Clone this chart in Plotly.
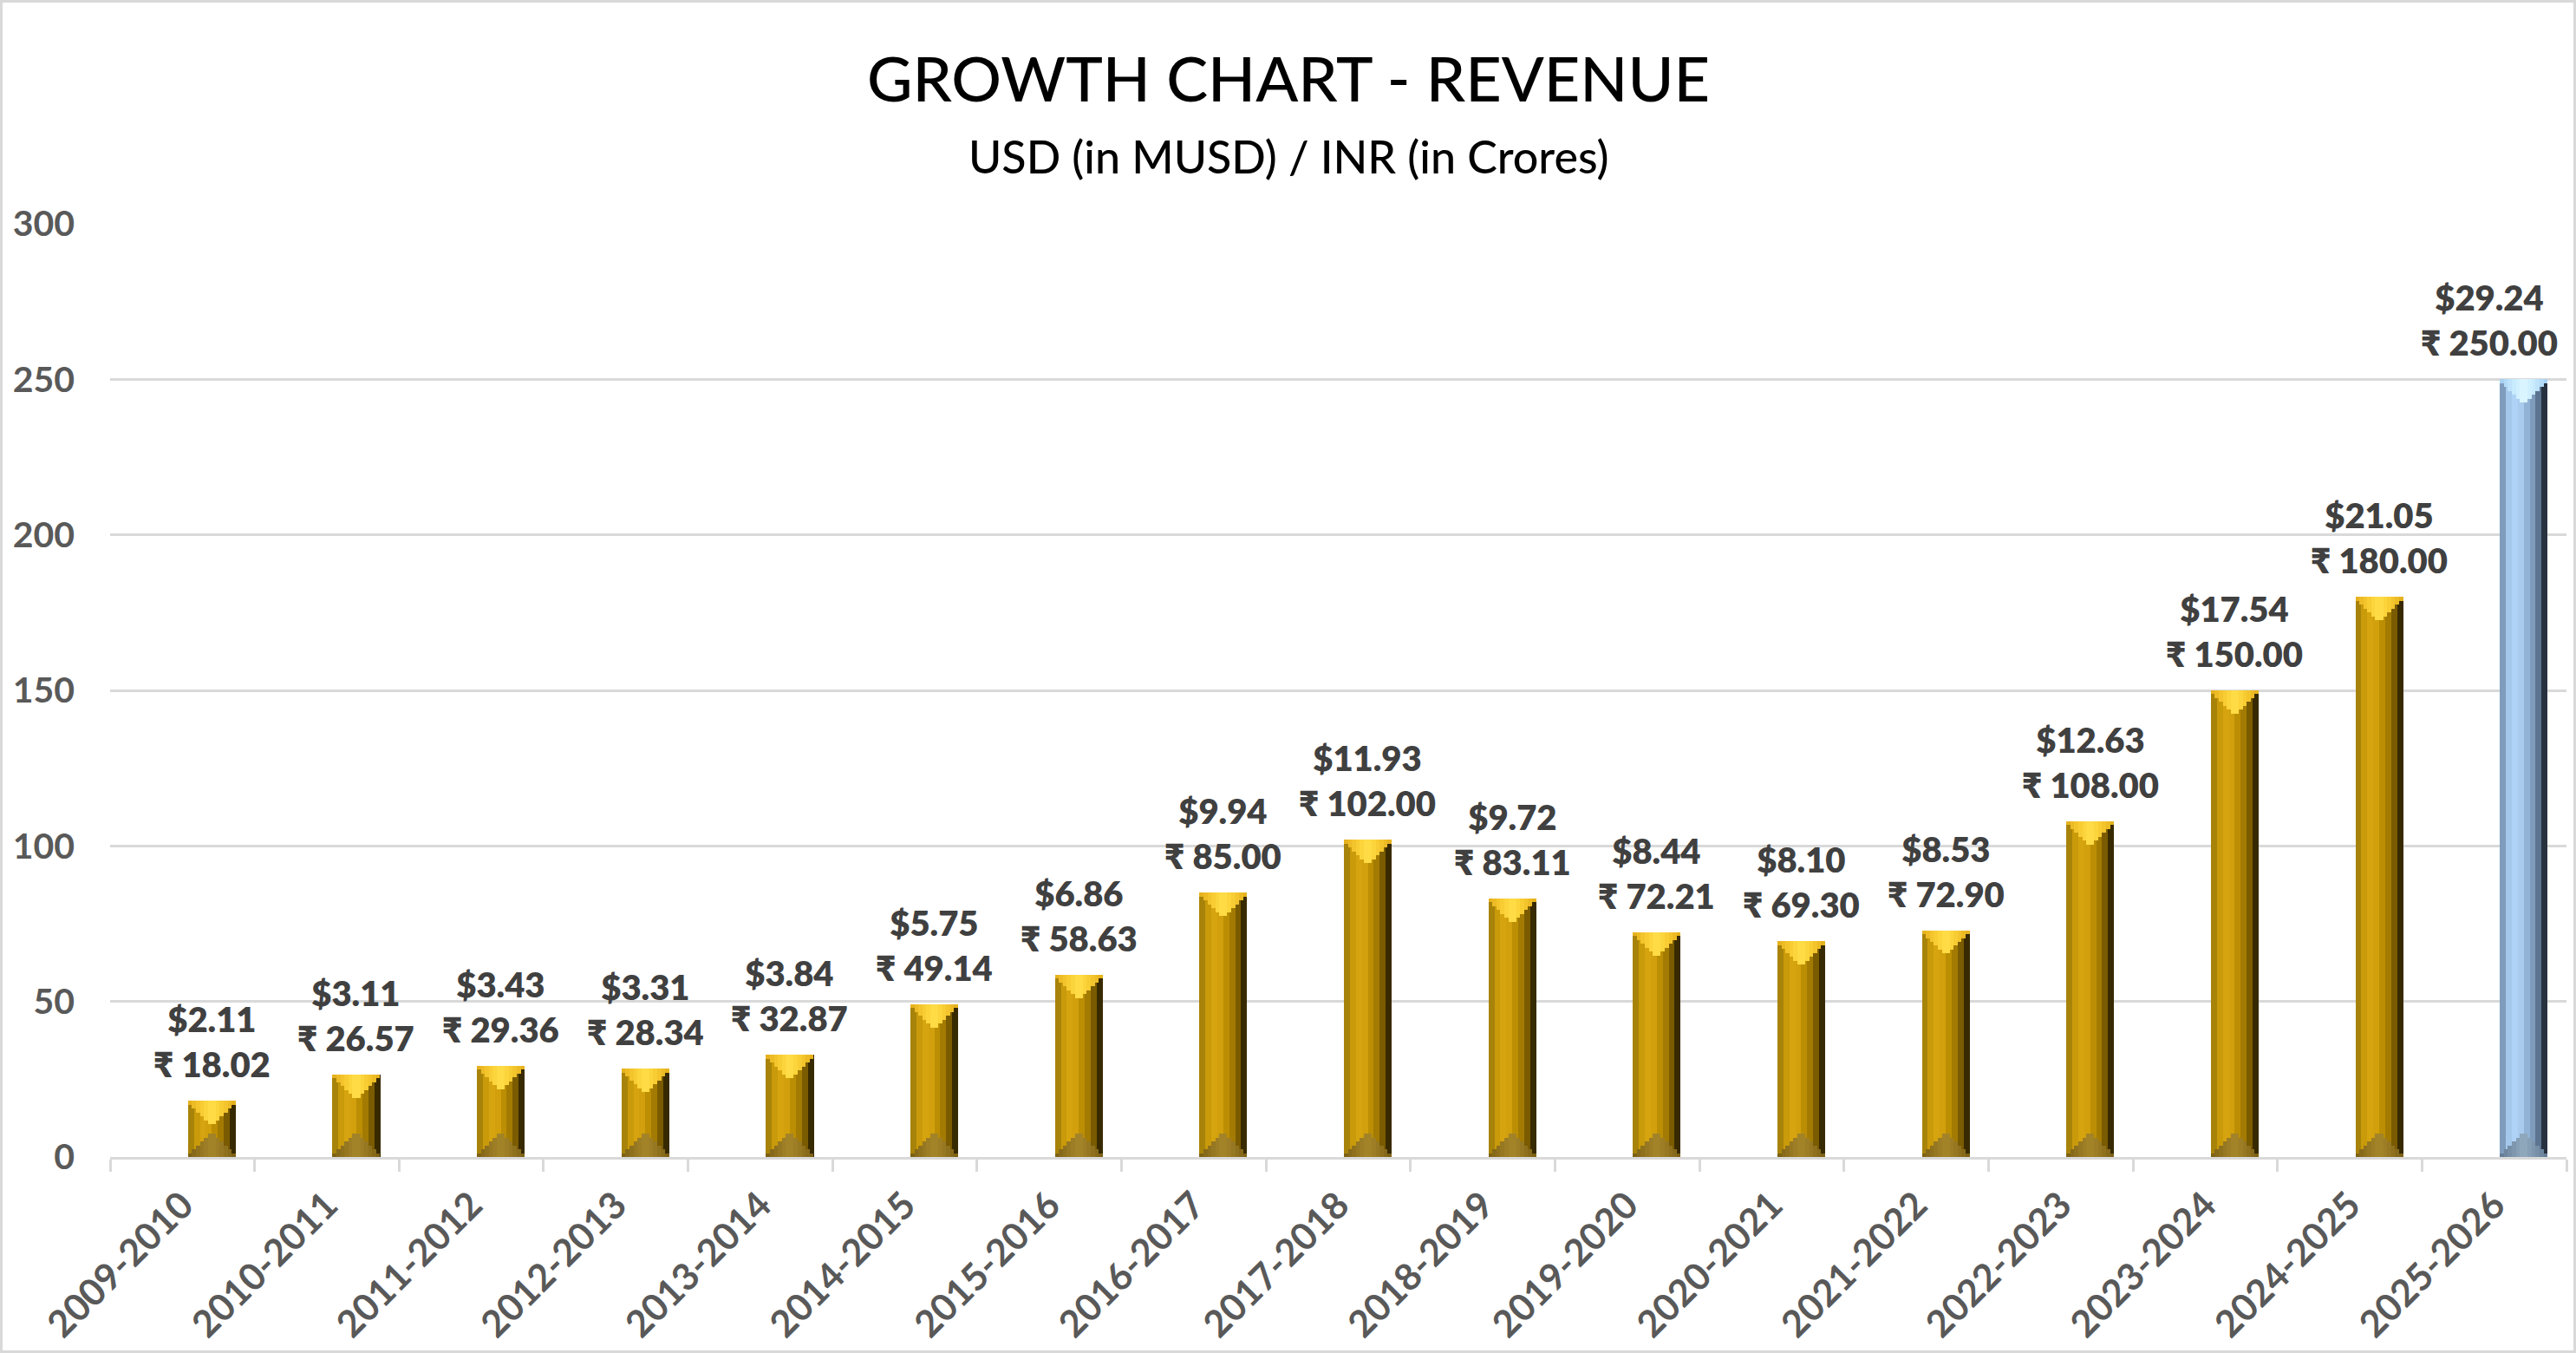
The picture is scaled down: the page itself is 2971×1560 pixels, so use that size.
import plotly.graph_objects as go

# ---------------- data ----------------
years = ["2009-2010", "2010-2011", "2011-2012", "2012-2013", "2013-2014", "2014-2015",
         "2015-2016", "2016-2017", "2017-2018", "2018-2019", "2019-2020", "2020-2021",
         "2021-2022", "2022-2023", "2023-2024", "2024-2025", "2025-2026"]
inr_crores = [18.02, 26.57, 29.36, 28.34, 32.87, 49.14, 58.63, 85.00, 102.00, 83.11,
              72.21, 69.30, 72.90, 108.00, 150.00, 180.00, 250.00]
usd_musd = [2.11, 3.11, 3.43, 3.31, 3.84, 5.75, 6.86, 9.94, 11.93, 9.72,
            8.44, 8.10, 8.53, 12.63, 17.54, 21.05, 29.24]
projected = [False] * 16 + [True]
y_ticks = [0, 50, 100, 150, 200, 250, 300]

# ---------------- styling ----------------
W, H = 2971, 1560
ML, MR, MT, MB = 127, 11, 258, 226
PW, PH = W - ML - MR, H - MT - MB
CAT_PX = PW / len(years)

BAR_W = 0.33             # bar width in category units
BAR_OFF = 0.204          # bar centre shift to the right, category units
BEVEL = 7.5              # bevel depth in data units

gold_strips = ["#A8830A", "#C99A0A", "#D6A40F", "#D1A00C", "#BC8E04", "#A37B02", "#7A5B00", "#382A00"]
blue_strips = ["#7F9CBC", "#A3C8EC", "#AED3F6", "#A9CCEE", "#93B3D6", "#7F9CBC", "#5C7490", "#27323E"]
gold_top = ["#E6B21E", "#EDBB25", "#F3C42C", "#F8CC33", "#FCD43B", "#FFDB45"]
blue_top = ["#A9D2F2", "#B3DBF8", "#BEE3FB", "#C8EBFD", "#D1F0FF", "#DAF5FF"]
gold_bot = ["#7D6114", "#86691A", "#8E701D", "#967722", "#9D7D25", "#A38327"]
blue_bot = ["#657D96", "#6E869F", "#778FA7", "#7F97AE", "#879FB5", "#8FA7BB"]


def pick(gold, blue):
    return [blue if p else gold for p in projected]


fig = go.Figure()

# vertical gradient strips (each a full-height bar built from the data)
n = len(gold_strips)
sw = BAR_W / n
for i in range(n):
    fig.add_trace(go.Bar(
        x=years, y=inr_crores, width=sw * 1.02, offset=BAR_OFF - BAR_W / 2 + i * sw,
        marker=dict(color=pick(gold_strips[i], blue_strips[i]), line=dict(width=0)),
        hoverinfo="skip", showlegend=False))

# bevel triangles (staircase approximation) at top and bottom of each bar
m = len(gold_top)
for i in range(m):
    frac = (m - i) / m
    depth = BEVEL * (i + 1) / m
    w = BAR_W * frac
    fig.add_trace(go.Bar(
        x=years, y=[depth] * len(years), base=[v - depth for v in inr_crores],
        width=w, offset=BAR_OFF - w / 2,
        marker=dict(color=pick(gold_top[i], blue_top[i]), line=dict(width=0)),
        hoverinfo="skip", showlegend=False))
    fig.add_trace(go.Bar(
        x=years, y=[depth] * len(years), base=[0] * len(years),
        width=w, offset=BAR_OFF - w / 2,
        marker=dict(color=pick(gold_bot[i], blue_bot[i]), line=dict(width=0)),
        hoverinfo="skip", showlegend=False))

# data labels
for k, (yr, inr, usd) in enumerate(zip(years, inr_crores, usd_musd)):
    last = k == len(years) - 1
    fig.add_annotation(
        x=yr, y=inr, xref="x", yref="y",
        text=f"${usd:.2f}<br>₹ {inr:.2f}",
        showarrow=False, yanchor="bottom", xanchor="center",
        yshift=16, xshift=-6 if last else BAR_OFF * CAT_PX,
        font=dict(family="Lato", size=40, color="#404040", weight=800))

# title and subtitle (pixel centres converted to paper coordinates)
def px_to_paper_y(py):
    return 1 + (MT - py) / PH

fig.add_annotation(x=(W / 2 - ML) / PW, y=px_to_paper_y(89), xref="paper", yref="paper",
                   text="GROWTH CHART - REVENUE", showarrow=False, yanchor="middle",
                   font=dict(family="Lato", size=72, color="#000000", weight=500))
fig.add_annotation(x=(W / 2 - ML) / PW, y=px_to_paper_y(180), xref="paper", yref="paper",
                   text="USD (in MUSD) / INR (in Crores)", showarrow=False, yanchor="middle",
                   font=dict(family="Lato", size=52, color="#000000", weight=500))

# outer chart border
fig.add_shape(type="rect", xref="paper", yref="paper",
              x0=(1.5 - ML) / PW, x1=(W - 1.5 - ML) / PW,
              y0=-(MB - 1.5) / PH, y1=1 + (MT - 1.5) / PH,
              line=dict(color="#D9D9D9", width=3), fillcolor="rgba(0,0,0,0)", layer="below")

fig.update_layout(
    width=W, height=H,
    margin=dict(l=ML, r=MR, t=MT, b=MB, autoexpand=False),
    paper_bgcolor="white", plot_bgcolor="white",
    barmode="overlay", bargap=0,
    showlegend=False,
    xaxis=dict(
        type="category", range=[-0.5, len(years) - 0.5],
        showline=True, linecolor="#D9D9D9", linewidth=3,
        ticks="outside", tickson="boundaries", ticklen=14, tickwidth=3, tickcolor="#D9D9D9",
        tickangle=-45, showgrid=False, zeroline=False, ticklabelstandoff=10,
        tickfont=dict(family="Lato", size=43, color="#595959", weight="bold"),
    ),
    yaxis=dict(
        range=[0, 300], tickvals=y_ticks, showgrid=True, gridcolor="#D9D9D9", gridwidth=3,
        showline=False, zeroline=False, ticks="", ticklabelstandoff=40,
        tickfont=dict(family="Lato", size=41, color="#595959", weight="bold"),
    ),
)

fig.write_html("out.html")
